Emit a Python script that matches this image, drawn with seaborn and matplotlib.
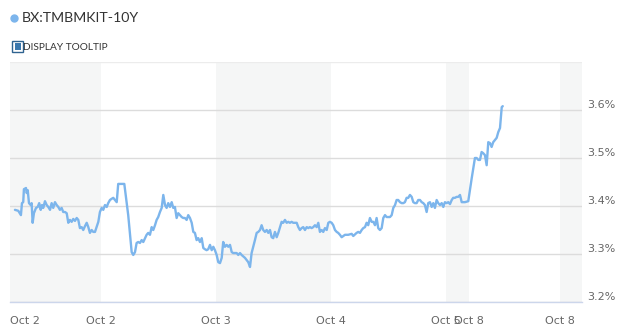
import numpy as np
import pandas as pd
import matplotlib
matplotlib.use("Agg")
import matplotlib.pyplot as plt
import seaborn as sns
from matplotlib.patches import Rectangle
from matplotlib.lines import Line2D

series_name = "BX:TMBMKIT-10Y"

# time in days relative to the second "Oct 2" tick
day = [
    -0.748, -0.719, -0.696, -0.687, -0.676, -0.670, -0.652, -0.646, -0.637, -0.626,
    -0.611, -0.603, -0.594, -0.583, -0.565, -0.550, -0.537, -0.524, -0.513, -0.502,
    -0.487, -0.472, -0.458, -0.443, -0.429, -0.415, -0.400, -0.385, -0.371, -0.357,
    -0.342, -0.328, -0.313, -0.298, -0.284, -0.270, -0.255, -0.241, -0.226, -0.211,
    -0.197, -0.183, -0.168, -0.154, -0.139, -0.124, -0.110, -0.096, -0.081, -0.067,
    -0.052, -0.023, -0.009, 0.006, 0.020, 0.035, 0.050, 0.063, 0.078, 0.093,
    0.107, 0.122, 0.137, 0.150, 0.180, 0.203, 0.237, 0.267, 0.281, 0.296,
    0.310, 0.324, 0.339, 0.354, 0.368, 0.383, 0.397, 0.411, 0.426, 0.441,
    0.455, 0.470, 0.484, 0.498, 0.513, 0.528, 0.542, 0.557, 0.571, 0.585,
    0.600, 0.615, 0.629, 0.643, 0.658, 0.672, 0.687, 0.702, 0.716,
    0.730, 0.745, 0.759, 0.774, 0.789, 0.803, 0.817, 0.832, 0.846, 0.861,
    0.876, 0.890, 0.904, 0.919, 0.933, 0.948, 0.963, 0.977, 0.991, 1.006,
    1.020, 1.035, 1.050, 1.063, 1.078, 1.093, 1.107, 1.122, 1.137, 1.150,
    1.165, 1.180, 1.194, 1.209, 1.223, 1.252, 1.267, 1.281, 1.296, 1.310,
    1.324, 1.339, 1.354, 1.368, 1.383, 1.397, 1.411, 1.426, 1.441, 1.455,
    1.470, 1.484, 1.498, 1.513, 1.528, 1.542, 1.557, 1.571, 1.585, 1.600,
    1.615, 1.629, 1.643, 1.658, 1.672, 1.687, 1.702, 1.716, 1.730, 1.745,
    1.759, 1.774, 1.789, 1.803, 1.817, 1.832, 1.846, 1.861, 1.876, 1.890,
    1.904, 1.919, 1.933, 1.948, 1.963, 1.977, 1.991, 2.006, 2.020, 2.035,
    2.050, 2.063, 2.078, 2.093, 2.107, 2.122, 2.150, 2.180,
    2.194, 2.223, 2.237, 2.252, 2.267, 2.281, 2.296, 2.310, 2.324, 2.339,
    2.354, 2.368, 2.383, 2.397, 2.411, 2.426, 2.441, 2.455, 2.470, 2.484,
    2.498, 2.513, 2.528, 2.542, 2.557, 2.571, 2.585, 2.600, 2.615, 2.629,
    2.643, 2.658, 2.672, 2.687, 2.702, 2.716, 2.730, 2.745, 2.759, 2.774,
    2.789, 2.803, 2.817, 2.832, 2.846, 2.861, 2.876, 2.890, 2.904, 2.919, 2.933,
    2.948, 2.963, 2.977, 2.991, 3.006, 3.020, 3.035, 3.050, 3.063, 3.078,
    3.093, 3.107, 3.122, 3.137, 3.165, 3.194, 3.224, 3.252, 3.267, 3.281,
    3.296, 3.310, 3.324, 3.339, 3.354, 3.368, 3.383, 3.397, 3.411, 3.426,
    3.441, 3.455, 3.470, 3.485, 3.494,
]

yield_pct = [
    3.392, 3.390, 3.381, 3.406, 3.408, 3.435, 3.4375, 3.427, 3.433, 3.406,
    3.402, 3.406, 3.365, 3.385, 3.396, 3.398, 3.406, 3.392, 3.402, 3.396,
    3.410, 3.402, 3.398, 3.392, 3.406, 3.396, 3.408, 3.402, 3.398, 3.392,
    3.396, 3.3875, 3.3875, 3.385, 3.365, 3.371, 3.367, 3.373, 3.369, 3.375,
    3.371, 3.354, 3.356, 3.350, 3.358, 3.365, 3.356, 3.344, 3.350, 3.346,
    3.346, 3.367, 3.3875, 3.396, 3.392, 3.402, 3.398, 3.406, 3.4125, 3.415,
    3.417, 3.4125, 3.408, 3.446, 3.446, 3.446, 3.381, 3.304, 3.298, 3.304,
    3.323, 3.325, 3.323, 3.329, 3.325, 3.333, 3.340, 3.344, 3.340, 3.356,
    3.350, 3.360, 3.371, 3.377, 3.3875, 3.396, 3.423, 3.402, 3.396, 3.406,
    3.398, 3.408, 3.396, 3.398, 3.375, 3.385, 3.381, 3.377, 3.375,
    3.375, 3.371, 3.381, 3.375, 3.365, 3.346, 3.344, 3.329, 3.333, 3.325,
    3.333, 3.3125, 3.310, 3.308, 3.310, 3.319, 3.308, 3.315, 3.308, 3.298,
    3.283, 3.281, 3.292, 3.325, 3.315, 3.319, 3.315, 3.319, 3.304, 3.302,
    3.302, 3.302, 3.298, 3.302, 3.298, 3.292, 3.2875, 3.283, 3.273, 3.302,
    3.315, 3.329, 3.344, 3.346, 3.350, 3.360, 3.350, 3.346, 3.350, 3.344,
    3.350, 3.335, 3.333, 3.346, 3.335, 3.344, 3.356, 3.367, 3.365, 3.371,
    3.365, 3.367, 3.365, 3.367, 3.365, 3.365, 3.365, 3.356, 3.350, 3.354,
    3.356, 3.350, 3.356, 3.354, 3.356, 3.354, 3.356, 3.360, 3.356, 3.365,
    3.346, 3.350, 3.346, 3.354, 3.350, 3.365, 3.367, 3.365, 3.360, 3.350,
    3.346, 3.344, 3.340, 3.335, 3.3375, 3.340, 3.340, 3.342,
    3.3375, 3.344, 3.346, 3.344, 3.350, 3.354, 3.356, 3.365, 3.360, 3.375,
    3.367, 3.367, 3.360, 3.375, 3.354, 3.350, 3.354, 3.375, 3.381, 3.377,
    3.377, 3.377, 3.381, 3.396, 3.402, 3.4125, 3.4125, 3.408, 3.406, 3.406,
    3.408, 3.417, 3.417, 3.423, 3.419, 3.408, 3.406, 3.406, 3.4125, 3.4125,
    3.408, 3.406, 3.402, 3.3875, 3.406, 3.408, 3.398, 3.406, 3.396, 3.4125, 3.406,
    3.402, 3.406, 3.398, 3.408, 3.406, 3.408, 3.404, 3.4125, 3.417, 3.417,
    3.419, 3.419, 3.423, 3.408, 3.408, 3.410, 3.458, 3.500, 3.500, 3.496,
    3.496, 3.5125, 3.510, 3.506, 3.485, 3.533, 3.531, 3.523, 3.533, 3.5375,
    3.542, 3.554, 3.5625, 3.606, 3.608,
]

x_tick_pos = [-0.791, 0.0, 1.0, 2.0, 3.0, 3.2, 3.991]
x_tick_labels = ["Oct 2", "Oct 2", "Oct 3", "Oct 4", "Oct 5", "Oct 8", "Oct 8"]
shaded_ranges = [(-0.791, 0.0), (1.0, 2.0), (3.0, 3.2), (3.991, 4.183)]
y_ticks = [3.2, 3.3, 3.4, 3.5, 3.6]
y_tick_labels = ["3.2%", "3.3%", "3.4%", "3.5%", "3.6%"]
x_range = (-0.791, 4.183)
y_range = (3.2, 3.7)

df = pd.DataFrame({"day": day, "yield": yield_pct})

sns.set_style("white")
plt.rcParams["font.family"] = ["DejaVu Sans"]

W, H = 630, 328
fig = plt.figure(figsize=(W / 100, H / 100), dpi=100)
ax = fig.add_axes([10 / W, 26 / H, 572 / W, 240 / H])

for a, b in shaded_ranges:
    ax.axvspan(a, b, color="#f5f6f6", lw=0, zorder=0)

for yv in y_ticks:
    ax.axhline(yv, color="#dcdcdc", lw=1, zorder=1)
ax.axhline(y_range[1], color="#ececec", lw=1, zorder=1)

sns.lineplot(data=df, x="day", y="yield", color="#7cb5ec", lw=1.7, ax=ax,
             sort=False, zorder=3)

ax.set_xlim(*x_range)
ax.set_ylim(*y_range)
ax.set_xlabel("")
ax.set_ylabel("")

for s in ["top", "left", "right"]:
    ax.spines[s].set_visible(False)
ax.spines["bottom"].set_color("#ccd6eb")
ax.spines["bottom"].set_linewidth(1)
ax.spines["bottom"].set_zorder(2)

ax.set_xticks(x_tick_pos, x_tick_labels)
ax.tick_params(axis="x", length=9, width=1, color="#ccd6eb", labelsize=8,
               labelcolor="#666666", pad=1)
xl = ax.get_xticklabels()
xl[0].set_ha("left")

ax.yaxis.tick_right()
ax.set_yticks(y_ticks, y_tick_labels)
ax.tick_params(axis="y", length=0, labelsize=8, labelcolor="#666666", pad=4)
for t in ax.get_yticklabels():
    t.set_va("bottom")

# header
fig.add_artist(Line2D([14 / W], [1 - 18 / H], marker="o", ms=5, color="#7cb5ec",
                      lw=0, transform=fig.transFigure))
fig.text(22 / W, 1 - 18 / H, series_name, fontsize=10.2, family=["Lato", "DejaVu Sans"],
         color="#333333", va="center", ha="left")

fig.add_artist(Rectangle((12 / W, 1 - 52 / H), 11 / W, 11 / H, facecolor="white",
                         edgecolor="#2f6390", lw=1, transform=fig.transFigure))
fig.add_artist(Rectangle((14.5 / W, 1 - 49.5 / H), 6 / W, 6 / H, facecolor="#3b78ad",
                         edgecolor="none", transform=fig.transFigure))
fig.text(23 / W, 1 - 47 / H, "DISPLAY TOOLTIP", fontsize=7.3,
         family=["Lato", "DejaVu Sans"], color="#333333", va="center", ha="left")

fig.savefig("out.png", dpi=100)
